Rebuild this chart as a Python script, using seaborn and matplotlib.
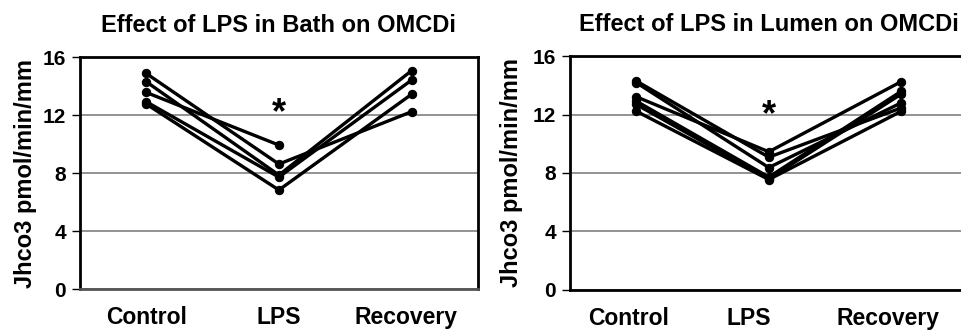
import numpy as np
import pandas as pd
import matplotlib
matplotlib.use("Agg")
import matplotlib.pyplot as plt
import seaborn as sns

sns.set_style("white")
plt.rcParams['font.family'] = ['Liberation Sans', 'DejaVu Sans']
plt.rcParams['font.weight'] = 'bold'
for key in ['text.color', 'axes.labelcolor', 'xtick.color', 'ytick.color']:
    plt.rcParams[key] = 'black'

conditions = ["Control", "LPS", "Recovery"]

# LPS in bath: one row per tubule (Control, LPS, Recovery)
bath_control = [14.87, 14.30, 13.56, 12.92, 12.76]
bath_lps = [8.62, 7.86, 9.93, 7.72, 6.83]
bath_recovery = [12.23, 15.06, np.nan, 14.41, 13.43]

# LPS in lumen
lumen_control = [14.30, 14.19, 13.22, 12.92, 12.69, 12.23]
lumen_lps = [9.08, 8.37, 9.45, 7.72, 7.60, 7.55]
lumen_recovery = [12.46, 12.81, 14.26, 13.60, 13.41, 12.23]

titles = ["Effect of LPS in Bath on OMCDi", "Effect of LPS in Lumen on OMCDi"]
y_label = "Jhco3 pmol/min/mm"
y_ticks = [0, 4, 8, 12, 16]


def to_long(control, lps, recovery):
    rows = []
    for i, vals in enumerate(zip(control, lps, recovery)):
        for cond, v in zip(conditions, vals):
            rows.append({"tubule": i, "condition": cond, "value": v})
    return pd.DataFrame(rows).dropna()


panels = [
    to_long(bath_control, bath_lps, bath_recovery),
    to_long(lumen_control, lumen_lps, lumen_recovery),
]
star_y = [12.1, 11.9]
# the category labels in the right panel sit a little left of the points
label_shift = [[0, 0, -0.04], [-0.06, -0.15, -0.1]]

fig = plt.figure(figsize=(9.61, 3.32), dpi=100)
ax_boxes = [[0.0832, 0.1295, 0.414, 0.6985],
            [0.593, 0.127, 0.414, 0.704]]
ylabel_x = [-0.108, -0.118]

for k, df in enumerate(panels):
    ax = fig.add_axes(ax_boxes[k])
    sns.lineplot(data=df, x="condition", y="value", units="tubule",
                 estimator=None, color="black", lw=2.4, marker="o",
                 markersize=6, markeredgecolor="black", ax=ax, legend=False)
    ax.set_xlim(-0.5, 2.5)
    ax.set_ylim(0, 16)
    ax.set_yticks(y_ticks)
    ax.set_xticks([i + d for i, d in enumerate(label_shift[k])])
    ax.set_xticklabels(conditions, fontsize=16.5, fontweight="bold")
    ax.tick_params(axis="x", length=0, pad=12)
    ax.tick_params(axis="y", length=6, width=1, direction="out", left=True,
                   labelsize=15, pad=4)
    for t in ax.get_yticklabels():
        t.set_fontweight("bold")
    ax.yaxis.grid(True, color="#808080", lw=1.2)
    ax.set_axisbelow(True)
    for s in ax.spines.values():
        s.set_color("black")
        s.set_linewidth(2)
    if k == 0:
        ax.spines["bottom"].set_color("#555555")
    ax.set_xlabel("")
    ax.set_ylabel(y_label, fontsize=17, fontweight="bold")
    ax.yaxis.set_label_coords(ylabel_x[k], 0.5)
    ax.set_title(titles[k], fontsize=17, fontweight="bold", pad=18)
    ax.text(1, star_y[k], "*", ha="center", va="center", fontsize=26,
            fontweight="bold")

fig.savefig("out.png", dpi=100)
